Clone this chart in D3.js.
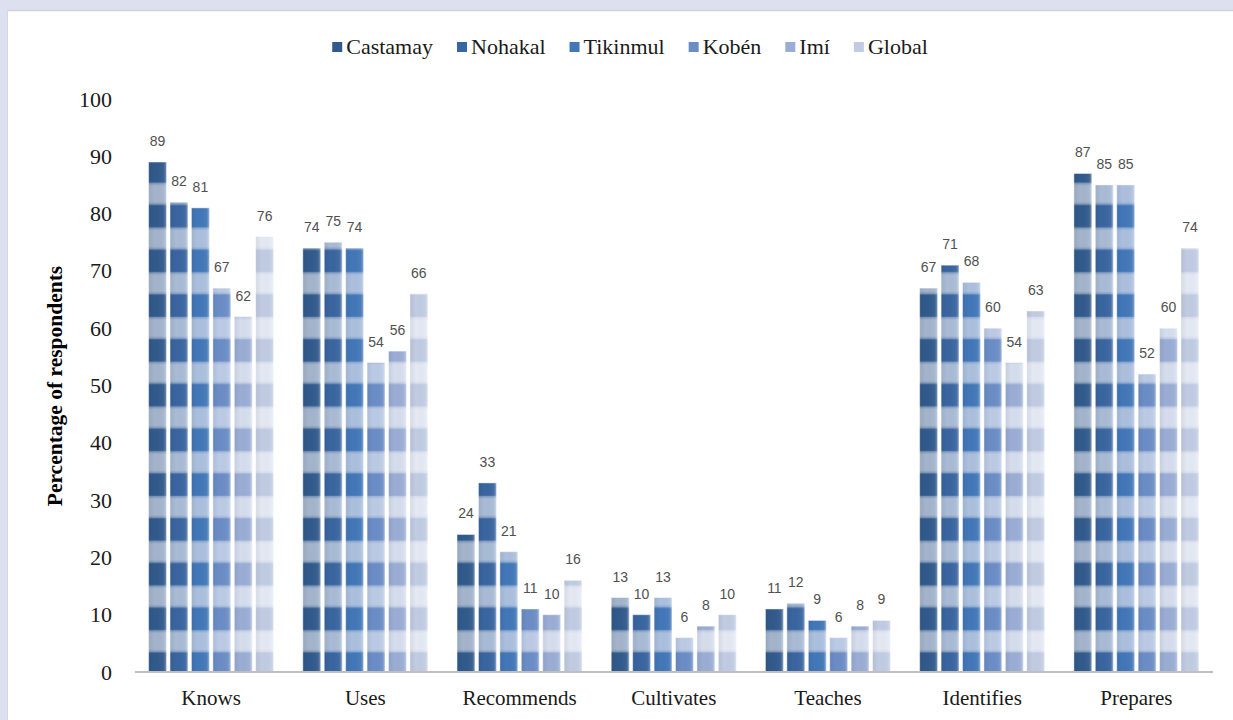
<!DOCTYPE html>
<html>
<head>
<meta charset="utf-8">
<script src="https://cdn.jsdelivr.net/npm/d3@7"></script>
<style>
  html, body { margin: 0; padding: 0; background: #dde1ef; }
  svg { display: block; }
</style>
</head>
<body>
<svg id="chart" width="1233" height="720"></svg>
<script>
// Share of respondents (%) per activity, by community
const categories = ["Knows", "Uses", "Recommends", "Cultivates", "Teaches", "Identifies", "Prepares"];
const seriesNames = ["Castamay", "Nohakal", "Tikinmul", "Kobén", "Imí", "Global"];
const castamay = [89, 74, 24, 13, 11, 67, 87];
const nohakal  = [82, 75, 33, 10, 12, 71, 85];
const tikinmul = [81, 74, 21, 13,  9, 68, 85];
const koben    = [67, 54, 11,  6,  6, 60, 52];
const imi      = [62, 56, 10,  8,  8, 54, 60];
const global   = [76, 66, 16, 10,  9, 63, 74];
const yTicks = [0, 10, 20, 30, 40, 50, 60, 70, 80, 90, 100];

const seriesValues = [castamay, nohakal, tikinmul, koben, imi, global];
const darkColors  = ["#315a8c", "#3965a0", "#4277b8", "#6b8dc6", "#9aadd4", "#c1cce3"];
const lightColors = ["#a3b4cc", "#a9bbd5", "#abc0de", "#bccbe5", "#d6deee", "#e4e9f4"];

const svg = d3.select("#chart");
const W = 1233, H = 720;

// white panel on lavender page
svg.append("rect").attr("x", 7).attr("y", 10).attr("width", W - 7).attr("height", H - 10)
  .attr("fill", "#ffffff");
svg.append("line").attr("x1", 7).attr("x2", W).attr("y1", 10.5).attr("y2", 10.5)
  .attr("stroke", "#cfd2dc").attr("stroke-width", 1.5);
svg.append("line").attr("x1", 7.5).attr("x2", 7.5).attr("y1", 10).attr("y2", H)
  .attr("stroke", "#d5d8e4").attr("stroke-width", 1);

const x0 = d3.scaleBand().domain(categories).range([134, 1213.5]).paddingInner(0).paddingOuter(0);
const groupInset = (x0.bandwidth() - 125) / 2;
const x1 = d3.scaleBand().domain(seriesNames).range([groupInset, groupInset + 125])
  .paddingInner(0.165).paddingOuter(0);
const y = d3.scaleLinear().domain([0, 100]).range([672, 99]);

// striped fills: alternating dark / light bands anchored to the baseline
const defs = svg.append("defs");
const period = 44.75;
seriesNames.forEach((name, i) => {
  const g = defs.append("linearGradient").attr("id", "lg" + i)
    .attr("x1", 0).attr("y1", 0).attr("x2", 0).attr("y2", 1);
  const mid = d3.interpolateRgb(darkColors[i], lightColors[i])(0.55);
  g.append("stop").attr("offset", "0%").attr("stop-color", mid);
  g.append("stop").attr("offset", "14%").attr("stop-color", lightColors[i]);
  g.append("stop").attr("offset", "86%").attr("stop-color", lightColors[i]);
  g.append("stop").attr("offset", "100%").attr("stop-color", mid);

  const p = defs.append("pattern").attr("id", "pat" + i)
    .attr("patternUnits", "userSpaceOnUse")
    .attr("x", 0).attr("y", y(0)).attr("width", W).attr("height", period);
  p.append("rect").attr("x", 0).attr("y", 0).attr("width", W).attr("height", period)
    .attr("fill", darkColors[i]);
  p.append("rect").attr("x", 0).attr("y", 2.75).attr("width", W).attr("height", 22.5)
    .attr("fill", `url(#lg${i})`);
});
// soft side shading for every bar
const sg = defs.append("linearGradient").attr("id", "side")
  .attr("x1", 0).attr("y1", 0).attr("x2", 1).attr("y2", 0);
sg.append("stop").attr("offset", "0%").attr("stop-color", "#000").attr("stop-opacity", 0.07);
sg.append("stop").attr("offset", "35%").attr("stop-color", "#000").attr("stop-opacity", 0);
sg.append("stop").attr("offset", "85%").attr("stop-color", "#fff").attr("stop-opacity", 0.05);
sg.append("stop").attr("offset", "100%").attr("stop-color", "#fff").attr("stop-opacity", 0.35);

const rows = [];
categories.forEach((c, ci) => {
  seriesNames.forEach((s, si) => rows.push({ cat: c, series: s, si, value: seriesValues[si][ci] }));
});

const bars = svg.append("g");
bars.selectAll("rect.bar").data(rows).join("rect").attr("class", "bar")
  .attr("x", d => x0(d.cat) + x1(d.series))
  .attr("y", d => y(d.value))
  .attr("width", x1.bandwidth())
  .attr("height", d => y(0) - y(d.value))
  .attr("fill", d => `url(#pat${d.si})`);
bars.selectAll("rect.shade").data(rows).join("rect").attr("class", "shade")
  .attr("x", d => x0(d.cat) + x1(d.series))
  .attr("y", d => y(d.value))
  .attr("width", x1.bandwidth())
  .attr("height", d => y(0) - y(d.value))
  .attr("fill", "url(#side)")
  .attr("stroke", "#ffffff").attr("stroke-opacity", 0.45).attr("stroke-width", 1);

// value labels
svg.append("g").selectAll("text").data(rows).join("text")
  .attr("x", d => x0(d.cat) + x1(d.series) + x1.bandwidth() / 2)
  .attr("y", d => y(d.value) - 16)
  .attr("text-anchor", "middle")
  .attr("font-family", "'Liberation Sans', Arial, sans-serif")
  .attr("font-size", 14)
  .attr("fill", "#505050")
  .text(d => d.value);

// x axis baseline and category labels
svg.append("line").attr("x1", 135).attr("x2", 1213).attr("y1", y(0)).attr("y2", y(0))
  .attr("stroke", "#bfbfbf").attr("stroke-width", 2);
svg.append("g").selectAll("text").data(categories).join("text")
  .attr("x", d => x0(d) + x0.bandwidth() / 2)
  .attr("y", 705)
  .attr("text-anchor", "middle")
  .attr("font-family", "'Liberation Serif', 'Times New Roman', serif")
  .attr("font-size", 21)
  .attr("fill", "#1a1a1a")
  .text(d => d);

// y axis labels
const yAxis = d3.axisLeft(y).tickValues(yTicks).tickSize(0).tickPadding(22);
const yg = svg.append("g").attr("transform", "translate(134,0)").call(yAxis);
yg.select(".domain").remove();
yg.selectAll("text")
  .attr("font-family", "'Liberation Serif', 'Times New Roman', serif")
  .attr("font-size", 22)
  .attr("fill", "#1a1a1a");

svg.append("text")
  .attr("transform", "translate(57,386) rotate(-90)")
  .attr("text-anchor", "middle")
  .attr("dominant-baseline", "middle")
  .attr("font-family", "'Liberation Serif', 'Times New Roman', serif")
  .attr("font-weight", "bold")
  .attr("font-size", 21.5)
  .attr("fill", "#000")
  .text("Percentage of respondents");

// legend
const legend = svg.append("g");
const items = legend.selectAll("g").data(seriesNames).join("g");
items.append("rect").attr("x", 0).attr("y", -5).attr("width", 10).attr("height", 10)
  .attr("fill", (d, i) => darkColors[i]);
items.append("text").attr("x", 14).attr("y", 7)
  .attr("font-family", "'Liberation Serif', 'Times New Roman', serif")
  .attr("font-size", 22).attr("fill", "#1a1a1a").text(d => d);
const gap = 24;
const widths = items.nodes().map(n => 14 + d3.select(n).select("text").node().getComputedTextLength());
const total = d3.sum(widths) + gap * (widths.length - 1);
let startX = 630 - total / 2;
items.attr("transform", (d, i) => {
  const t = `translate(${startX},47)`;
  startX += widths[i] + gap;
  return t;
});
</script>
</body>
</html>
